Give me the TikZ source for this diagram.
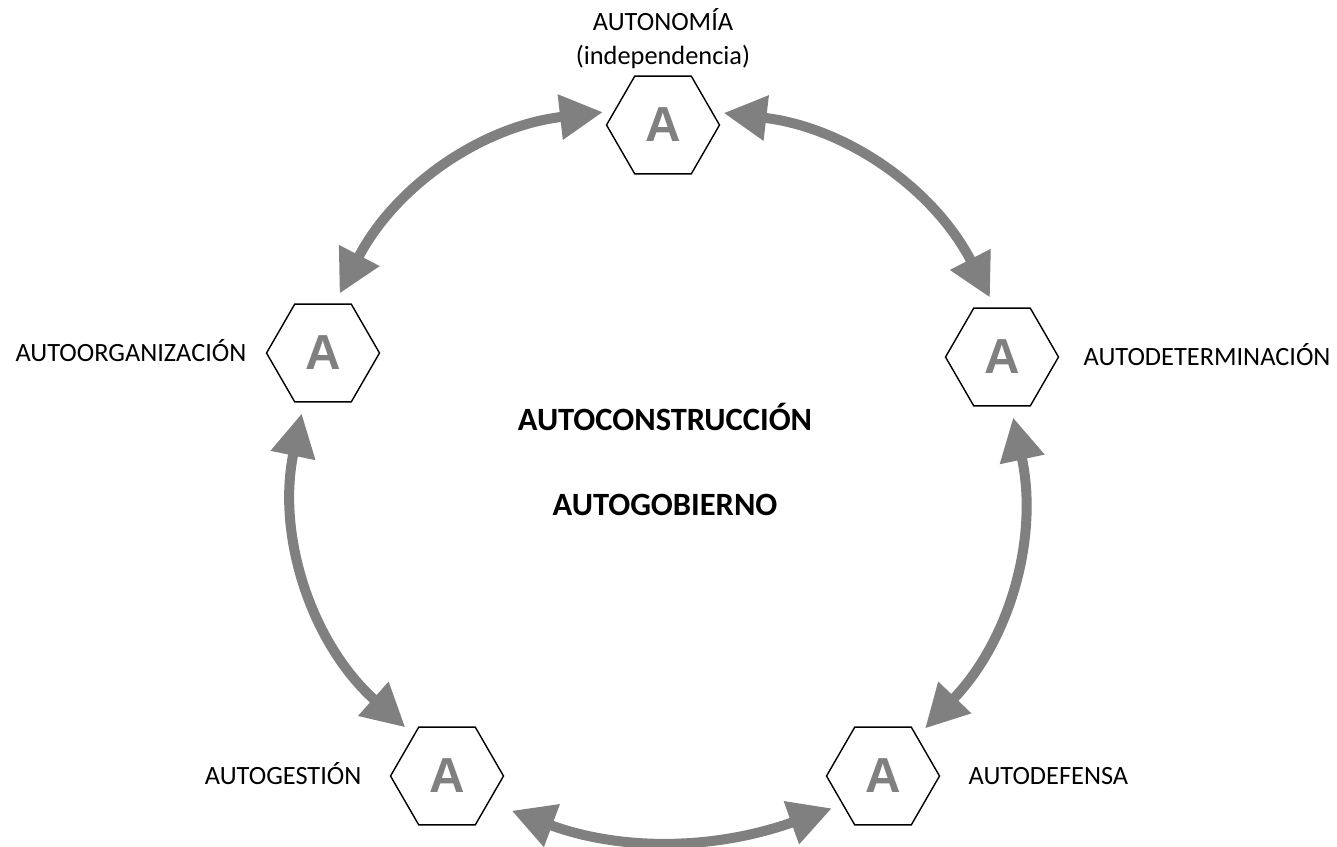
\documentclass[tikz,border=0pt]{standalone}
\usepackage{fontspec}
\setmainfont{Carlito}
\newfontfamily\hexfont{Liberation Sans}
\usetikzlibrary{positioning, arrows.meta, shapes.geometric}

\definecolor{arrowgray}{RGB}{128,128,128}

\tikzset{
  hexa/.style = {draw, regular polygon, regular polygon sides=6, minimum size=2.26cm,
    inner sep=0pt, line width=0.8pt, text=arrowgray,
    font=\hexfont\bfseries\fontsize{28}{28}\selectfont},
  tag/.style = {inner sep=0pt, font=\fontsize{15}{19}\selectfont, text height=9.7pt, text depth=0pt},
  title/.style = {inner sep=0pt, font=\bfseries\fontsize{18.5}{22}\selectfont},
  link/.style = {draw=arrowgray, line width=0.2cm,
    {Triangle[length=0.86cm,width=0.86cm]}-{Triangle[length=0.86cm,width=0.86cm]},
    shorten >=0.22cm, shorten <=0.22cm}
}

\begin{document}
\begin{tikzpicture}[x=0.02cm, y=-0.02cm, node distance=0.5cm]
  \useasboundingbox (0,0) rectangle (1337,846);

  % the five A's
  \node[hexa] (autonomia) at (663,125) {A};
  \node[hexa] (determ)    at (1002,357) {A};
  \node[hexa] (defensa)   at (883,776) {A};
  \node[hexa] (gestion)   at (447,776) {A};
  \node[hexa] (organiz)   at (323,353) {A};

  % names
  \node[inner sep=0pt, align=center, font=\fontsize{15}{19}\selectfont, above=0.13cm of autonomia]
    (autonomiatag) {AUTONOMÍA\\(independencia)};
  \node[tag, right=0.48cm of determ]  (determtag)  {AUTODETERMINACIÓN};
  \node[tag, right=0.56cm of defensa] (defensatag) {AUTODEFENSA};
  \node[tag, left=0.56cm of gestion]  (gestiontag) {AUTOGESTIÓN};
  \node[tag, left=0.38cm of organiz]  (organiztag) {AUTOORGANIZACIÓN};

  % centre
  \node[title] (construccion) at (665,417) {AUTOCONSTRUCCIÓN};
  \node[title, below=1.25cm of construccion] (gobierno) {AUTOGOBIERNO};

  % ring of arrows
  \draw[link] (autonomia.15) to[bend left=28] (determ.98);
  \draw[link] (determ.280) to[bend left=28] (defensa.49);
  \draw[link, shorten >=0.48cm] (defensa.215) to[bend left=20] (gestion.328);
  \draw[link] (gestion.129) to[bend left=30] (organiz.249);
  \draw[link] (organiz.77) to[bend left=28] (autonomia.164);
\end{tikzpicture}
\end{document}
